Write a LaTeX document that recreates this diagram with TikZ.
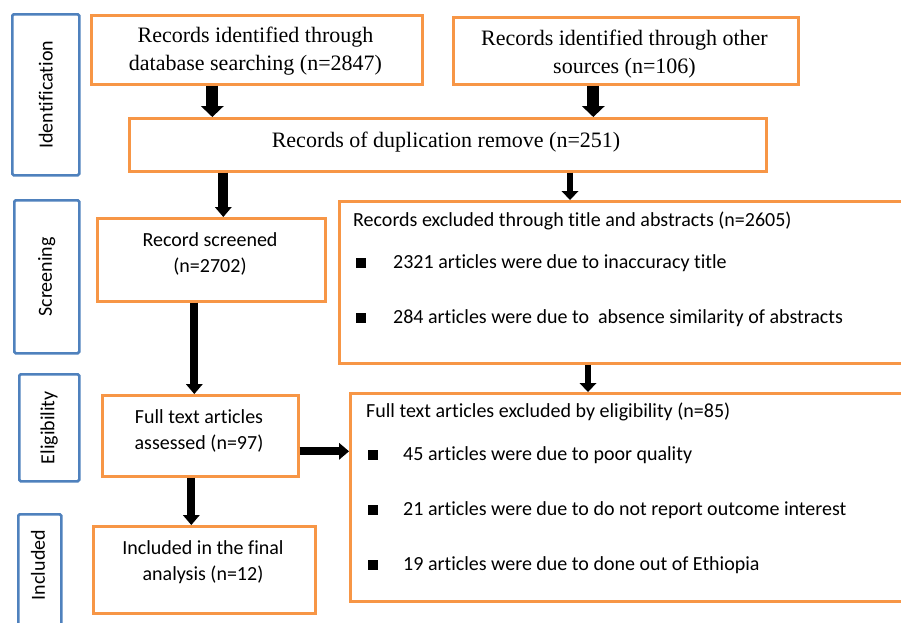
\documentclass[tikz,border=0pt]{standalone}
\usepackage{fontspec}
\setmainfont{Liberation Serif}
\setsansfont{Carlito}[Ligatures=NoCommon]
\usetikzlibrary{arrows.meta,positioning}

\definecolor{boxorange}{HTML}{F79646}
\definecolor{stageblue}{HTML}{4F81BD}

\begin{document}
\begin{tikzpicture}[
    x=1pt, y=-1pt,
    stage/.style={draw=stageblue, line width=2.5pt, rounded corners=1.5pt, anchor=north west, inner sep=0pt},
    record/.style={draw=boxorange, line width=2.6pt, anchor=north west, inner sep=0pt},
    stagelabel/.style={rotate=90, font=\sffamily\fontsize{20}{24}\selectfont},
    serif/.style={align=center, font=\rmfamily\fontsize{22}{28}\selectfont},
    sans/.style={align=center, font=\sffamily\fontsize{20}{26}\selectfont},
    item/.style={anchor=west, inner sep=0pt, font=\sffamily\fontsize{20}{24}\selectfont},
    bullet/.style={fill=black, minimum size=10pt, inner sep=0pt},
    bigarrow/.style={line width=12pt, -{Triangle[length=11pt, width=23pt, line width=0pt]}},
    midarrow/.style={line width=8pt, -{Triangle[length=10pt, width=17pt, line width=0pt]}},
    thinarrow/.style={line width=5.5pt, -{Triangle[length=9pt, width=17pt, line width=0pt]}},
]

\useasboundingbox (0,0) rectangle (901,622);
\clip (0,0) rectangle (901,622);

% Stages
\node[stage, minimum width=67pt, minimum height=161pt] (ident) at (11,13) {};
\node[stagelabel] (identlabel) at (ident) {Identification};
\node[stage, minimum width=65pt, minimum height=153pt] (screen) at (13,199) {};
\node[stagelabel] (screenlabel) at (screen) {Screening};
\node[stage, minimum width=60pt, minimum height=107pt] (elig) at (18,373) {};
\node[stagelabel] (eliglabel) at (elig) {Eligibility};
\node[stage, minimum width=43pt, minimum height=130pt] (incl) at (17,513) {};
\node[stagelabel] (incllabel) at (38,565) {Included};

% Records
\node[record, minimum width=331pt, minimum height=69pt] (db) at (90,14) {};
\node[serif] (dbtext) at (255.5,51) {Records identified through\\database searching (n=2847)};
\node[record, minimum width=345pt, minimum height=67pt] (other) at (452,16) {};
\node[serif] (othertext) at (624.5,54) {Records identified through other\\sources (n=106)};
\node[record, minimum width=637pt, minimum height=53pt] (dup) at (128,117) {};
\node[serif] (duptext) at (446,142) {Records of duplication remove (n=251)};
\node[record, minimum width=228pt, minimum height=83pt] (screened) at (96,217) {};
\node[sans] (screenedtext) at (210,254) {Record screened\\(n=2702)};
\node[record, minimum width=196pt, minimum height=81pt] (full) at (101,394) {};
\node[sans] (fulltext) at (199,431) {Full text articles\\assessed (n=97)};
\node[record, minimum width=222pt, minimum height=87pt] (final) at (92,525) {};
\node[sans] (finaltext) at (203,562) {Included in the final\\analysis (n=12)};

% Exclusions
\node[record, minimum width=620pt, minimum height=162pt] (exclA) at (338,200) {};
\node[item] (exclAhead) at (353,221) {Records excluded through title and abstracts (n=2605)};
\node[bullet] (exclAb1) at (361,263) {};
\node[item] (exclA1) at (393,263) {2321 articles were due to inaccuracy title};
\node[bullet] (exclAb2) at (361,318) {};
\node[item] (exclA2) at (393,318) {284 articles were due to \ absence similarity of abstracts};

\node[record, minimum width=610pt, minimum height=208pt] (exclB) at (349,392) {};
\node[item] (exclBhead) at (366,412) {Full text articles excluded by eligibility (n=85)};
\node[bullet] (exclBb1) at (373,455) {};
\node[item] (exclB1) at (403,455) {45 articles were due to poor quality};
\node[bullet] (exclBb2) at (373,510) {};
\node[item] (exclB2) at (403,510) {21 articles were due to do not report outcome interest};
\node[bullet] (exclBb3) at (373,565) {};
\node[item] (exclB3) at (403,565) {19 articles were due to done out of Ethiopia};

% Arrows
\draw[bigarrow] ([xshift=-44.5pt]db.south) -- ([xshift=-44.5pt]db.south |- dup.north);
\draw[bigarrow] ([xshift=-32.5pt]other.south) -- ([xshift=-32.5pt]other.south |- dup.north);
\draw[midarrow, line width=10pt] ([xshift=12pt]screened.north |- dup.south) -- ([xshift=12pt]screened.north);
\draw[thinarrow] ([xshift=232pt]exclA.north west |- dup.south) -- ([xshift=232pt]exclA.north west);
\draw[midarrow] ([xshift=-17pt]screened.south) -- ([xshift=-17pt]screened.south |- full.north);
\draw[thinarrow] ([xshift=239pt]exclB.north west |- exclA.south) -- ([xshift=239pt]exclB.north west);
\draw[midarrow] ([yshift=-15.5pt]full.east) -- ([yshift=-15.5pt]full.east -| exclB.west);
\draw[midarrow] ([xshift=-9pt]full.south) -- ([xshift=-9pt]full.south |- final.north);

\end{tikzpicture}
\end{document}
